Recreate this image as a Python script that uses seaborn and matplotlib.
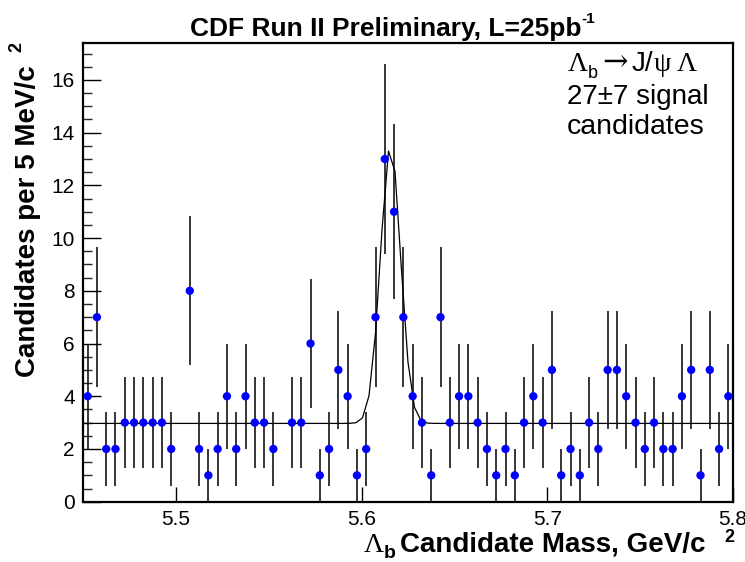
import numpy as np
import pandas as pd
import matplotlib
matplotlib.use("Agg")
import matplotlib.pyplot as plt
import seaborn as sns

# ---------------- data ----------------
mass_lo = 5.45          # GeV/c^2, lower edge of first bin
mass_hi = 5.80
bin_width = 0.005       # 5 MeV bins
counts = [4, 7, 2, 2, 3, 3, 3, 3, 3, 2,
          0, 8, 2, 1, 2, 4, 2, 4, 3, 3,
          2, 0, 3, 3, 6, 1, 2, 5, 4, 1,
          2, 7, 13, 11, 7, 4, 3, 1, 7, 3,
          4, 4, 3, 2, 1, 2, 1, 3, 4, 3,
          5, 1, 2, 1, 3, 2, 5, 5, 4, 3,
          2, 3, 2, 2, 4, 5, 1, 5, 2, 4]
# fitted Gaussian + flat background
fit_const = 2.97
fit_amp = 10.55
fit_mean = 5.6156
fit_sigma = 0.0054
fit_npx = 100
x_ticks = [5.5, 5.6, 5.7, 5.8]
x_ticklabels = ["5.5", "5.6", "5.7", "5.8"]
y_ticks = [0, 2, 4, 6, 8, 10, 12, 14, 16]

# ---------------- style ----------------
sns.set_theme(style="white")
plt.rcParams["font.family"] = ["Liberation Sans", "DejaVu Sans"]
plt.rcParams["axes.edgecolor"] = "black"

W, H = 745, 562
fig = plt.figure(figsize=(W / 100, H / 100), dpi=100)
fig.patch.set_facecolor("white")
ax = fig.add_axes([83 / W, 1 - 501.7 / H, 650 / W, (501.7 - 43.3) / H])
ax.set_facecolor("white")

edges = np.arange(len(counts) + 1) * bin_width + mass_lo
centers = 0.5 * (edges[:-1] + edges[1:])
df = pd.DataFrame({"mass": centers, "n": np.array(counts, dtype=float)})
df["err"] = np.sqrt(df["n"])
dfp = df[df["n"] > 0]

# fit curve
xf = np.linspace(mass_lo, mass_hi, fit_npx + 1)
yf = fit_const + fit_amp * np.exp(-0.5 * ((xf - fit_mean) / fit_sigma) ** 2)
fit_df = pd.DataFrame({"mass": xf, "fit": yf})

ax.vlines(dfp["mass"], dfp["n"] - dfp["err"], dfp["n"] + dfp["err"],
          colors="black", linewidth=1.1, zorder=2)
sns.lineplot(data=fit_df, x="mass", y="fit", ax=ax, color="black",
             linewidth=0.9, zorder=3, legend=False)
sns.scatterplot(data=dfp, x="mass", y="n", ax=ax, color="#0000ff",
                marker="o", s=36, edgecolor="none", zorder=4, legend=False)

ax.set_xlim(mass_lo, mass_hi)
ax.set_ylim(0, 17.39)
ax.set_xlabel("")
ax.set_ylabel("")
ax.set_xticks(x_ticks)
ax.set_xticklabels(x_ticklabels)
ax.set_yticks(y_ticks)
ax.set_yticks(np.arange(0, 17.4, 0.5), minor=True)
ax.tick_params(axis="y", which="major", direction="in", length=13, width=1,
               left=True, right=False, labelsize=15, pad=6, colors="black")
ax.tick_params(axis="y", which="minor", direction="in", length=6.5, width=1,
               left=True, right=False)
ax.tick_params(axis="x", which="major", direction="in", length=11, width=1,
               bottom=True, top=False, labelsize=15, pad=6, colors="black")
ax.tick_params(axis="x", which="minor", bottom=False, top=False)
for sp in ax.spines.values():
    sp.set_visible(True)
    sp.set_linewidth(1.6)
    sp.set_color("black")

renderer = fig.canvas.get_renderer()
serif = ["Liberation Serif", "DejaVu Serif"]
sans = ["Liberation Sans", "DejaVu Sans"]


def chain(pieces, x, y):
    """pieces: (text, size, weight, family, dy, gap_after) placed left to right; x,y in px from top-left"""
    for s, size, weight, fam, dy, gap in pieces:
        t = fig.text(x / W, 1 - (y + dy) / H, s, ha="left", va="baseline",
                     fontsize=size, fontweight=weight, family=fam, color="black")
        bb = t.get_window_extent(renderer)
        x = x + bb.width + gap


# title
chain([("CDF Run II Preliminary, L=25pb", 19, "bold", sans, 0, 0),
       ("-1", 11, "bold", sans, -13, 0)], 190, 36)

# annotation
chain([("\u039b", 20, "normal", serif, 0, 0),
       ("b", 13, "normal", sans, 7, 4),
       ("\u2192", 22, "normal", ["DejaVu Serif"], 0, 4),
       ("J/", 20, "normal", sans, 0, 0),
       ("\u03c8", 20, "normal", serif, 0, 6),
       ("\u039b", 20, "normal", serif, 0, 0)], 568, 71)
fig.text(567 / W, 1 - 104 / H, "27\u00b17 signal", ha="left", va="baseline",
         fontsize=20, family=sans, color="black")
fig.text(567 / W, 1 - 134 / H, "candidates", ha="left", va="baseline",
         fontsize=20.5, family=sans, color="black")

# x label
chain([("\u039b", 20, "normal", serif, 0, 0),
       ("b", 14, "bold", sans, 6, 4),
       ("Candidate Mass, GeV/c", 20, "bold", sans, 0, 0)], 364, 552)
fig.text(729 / W, 1 - 537 / H, "2", ha="center", va="center", fontsize=13,
         fontweight="bold", family=sans, color="black")

# y label
fig.text(35 / W, 1 - 221 / H, "Candidates per 5 MeV/c", rotation=90,
         rotation_mode="anchor", ha="center", va="baseline", fontsize=20,
         fontweight="bold", family=sans, color="black")
fig.text(17 / W, 1 - 47 / H, "2", rotation=90, ha="center", va="center",
         fontsize=13, fontweight="bold", family=sans, color="black")

fig.savefig("out.png", dpi=100, facecolor="white")
